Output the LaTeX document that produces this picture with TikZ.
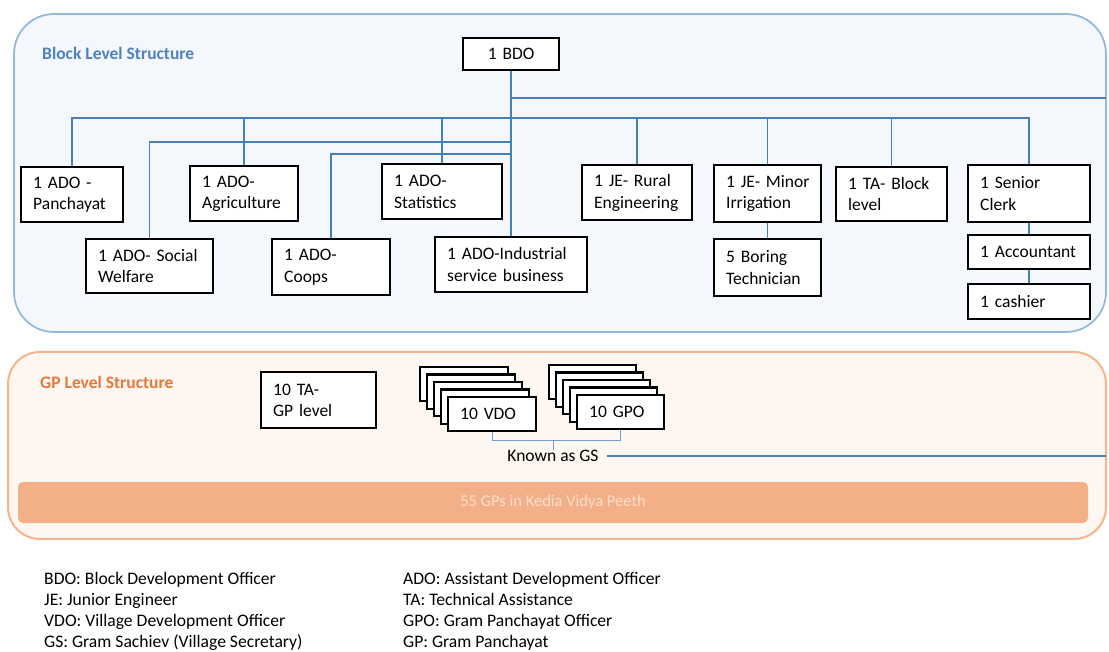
\documentclass[tikz,border=0pt]{standalone}
\usepackage{fontspec}
\setmainfont{Carlito}
\definecolor{conn}{HTML}{4A7EBB}
\definecolor{blkline}{HTML}{95B8E0}
\definecolor{blkfill}{HTML}{F4F8FC}
\definecolor{blkhead}{HTML}{4F81BD}
\definecolor{gpline}{HTML}{F5B48C}
\definecolor{gpfill}{HTML}{FEF6F0}
\definecolor{gphead}{HTML}{E8773A}
\definecolor{barfill}{HTML}{F3AF88}
\newcommand\orgfont{\fontsize{17.5}{21.5}\selectfont\hyphenpenalty=10000\exhyphenpenalty=10000}
\newcommand\legfont{\fontsize{17.6}{21}\selectfont}
\tikzset{
  orgbox/.style={draw=black, line width=2.4pt, fill=white, anchor=north west,
    align=left, inner xsep=12pt, inner ysep=2pt, font=\orgfont},
  link/.style={draw=conn, line width=1.5pt},
  bracket/.style={draw=conn!75, line width=1pt},
  plain/.style={inner sep=0pt, anchor=west},
  legend/.style={inner sep=0pt, anchor=base west, font=\legfont},
  heading/.style={plain, font=\orgfont\bfseries}
}
\begin{document}
\begin{tikzpicture}[x=1pt,y=-1pt]
\useasboundingbox (0,0) rectangle (1109,652);
\fill[white] (0,0) rectangle (1109,652);

% panels
\draw[blkline, fill=blkfill, line width=1.8pt, rounded corners=40pt] (14,14) rectangle (1106,332);
\draw[gpline, fill=gpfill, line width=2pt, rounded corners=32pt] (8,352) rectangle (1106,539);
\fill[barfill, rounded corners=5pt] (18,482) rectangle (1088,523);
\node[inner sep=0pt, text=white, opacity=.6, font=\fontsize{16.5}{19}\selectfont] (bartext) at (553,502) {55 GPs in Kedia Vidya Peeth};

\node[heading, text=blkhead] (blkhd) at (42,53) {Block Level Structure};
\node[heading, text=gphead] (gphd) at (40,382) {GP Level Structure};

% block level boxes
\node[orgbox, align=center, minimum width=96pt, minimum height=32pt, text width=72pt] (bdo) at (462,37) {1 BDO};
\node[orgbox, minimum width=102pt, minimum height=55pt, text width=78pt] (pan) at (20,166) {1 ADO -\\Panchayat};
\node[orgbox, minimum width=108pt, minimum height=55pt, text width=84pt] (agr) at (189,165) {1 ADO-\\Agriculture};
\node[orgbox, minimum width=120pt, minimum height=55pt, text width=96pt] (stat) at (381,163) {1 ADO-\\Statistics};
\node[orgbox, minimum width=110pt, minimum height=55pt, text width=86pt] (rur) at (581,164) {1 JE-~Rural\\Engineering};
\node[orgbox, minimum width=107pt, minimum height=57pt, text width=83pt] (mir) at (713,164) {1~JE-~Minor\\Irrigation};
\node[orgbox, minimum width=111pt, minimum height=54pt, text width=87pt] (ta) at (835,166) {1 TA-~Block\\level};
\node[orgbox, minimum width=122pt, minimum height=57pt, text width=98pt] (sc) at (967,164) {1 Senior\\Clerk};
\node[orgbox, minimum width=127pt, minimum height=54pt, text width=103pt] (soc) at (85,238) {1 ADO-~Social\\Welfare};
\node[orgbox, minimum width=118pt, minimum height=56pt, text width=94pt] (coop) at (271,238) {1 ADO-\\Coops};
\node[orgbox, minimum width=152pt, minimum height=55pt, text width=128pt] (ind) at (434,236) {1 ADO-Industrial\\service business};
\node[orgbox, minimum width=107pt, minimum height=57pt, text width=83pt] (bor) at (713,238) {5 Boring\\Technician};
\node[orgbox, minimum width=122pt, minimum height=34pt, text width=98pt] (acc) at (967,234) {1 Accountant};
\node[orgbox, minimum width=122pt, minimum height=35pt, text width=98pt] (cash) at (967,283) {1 cashier};

% connectors of the block level
\coordinate (yR) at (0,98);
\coordinate (yB) at (0,118);
\coordinate (yS) at (0,142);
\coordinate (yC) at (0,154);
\coordinate (rEnd) at (1106,98);
\draw[link] (bdo.south) -- (ind.north);
\draw[link] (bdo.south |- yR) -- (rEnd);
\draw[link] (pan.north) |- (sc.north |- yB) -- (sc.north);
\foreach \n in {agr,stat,rur,mir,ta}
  \draw[link] (\n.north) -- (\n.north |- yB);
\draw[link] (soc.north) |- (bdo.south |- yS);
\draw[link] (coop.north) |- (bdo.south |- yC);
\draw[link] (mir.south) -- (bor.north);
\draw[link] (sc.south) -- (acc.north);
\draw[link] (acc.south) -- (cash.north);

% GP level
\node[orgbox, minimum width=115pt, minimum height=56pt, text width=91pt] (tagp) at (260,371) {10 TA-\\GP level};
\foreach \k in {4,3,2,1}
  \node[orgbox, minimum width=88pt, minimum height=34pt] (vdo\k) at (447-7*\k, 396-7.5*\k) {};
\node[orgbox, minimum width=88pt, minimum height=34pt, text width=64pt] (vdo) at (447,396) {10 VDO};
\foreach \k in {4,3,2,1}
  \node[orgbox, minimum width=87pt, minimum height=34pt] (gpo\k) at (576-7*\k, 394-7.5*\k) {};
\node[orgbox, minimum width=87pt, minimum height=34pt, text width=63pt] (gpo) at (576,394) {10 GPO};

\node[inner sep=0pt, font=\orgfont] (gs) at (553,456) {Known as GS};
\coordinate (yK) at (0,440);
\coordinate (gsEnd) at (1106,456);
\draw[bracket] (vdo.south) |- (gpo.south |- yK) -- (gpo.south);
\draw[bracket] (gs.north) -- (gs.north |- yK);
\draw[link] ([xshift=8pt]gs.east) -- (gsEnd);

% abbreviations
\node[legend] (l1) at (44,584) {BDO: Block Development Officer};
\node[legend] (l2) at (44,605) {JE: Junior Engineer};
\node[legend] (l3) at (44,626) {VDO: Village Development Officer};
\node[legend] (l4) at (44,647) {GS: Gram Sachiev (Village Secretary)};
\node[legend] (r1) at (403,584) {ADO: Assistant Development Officer};
\node[legend] (r2) at (403,605) {TA: Technical Assistance};
\node[legend] (r3) at (403,626) {GPO: Gram Panchayat Officer};
\node[legend] (r4) at (403,647) {GP: Gram Panchayat};
\end{tikzpicture}
\end{document}
